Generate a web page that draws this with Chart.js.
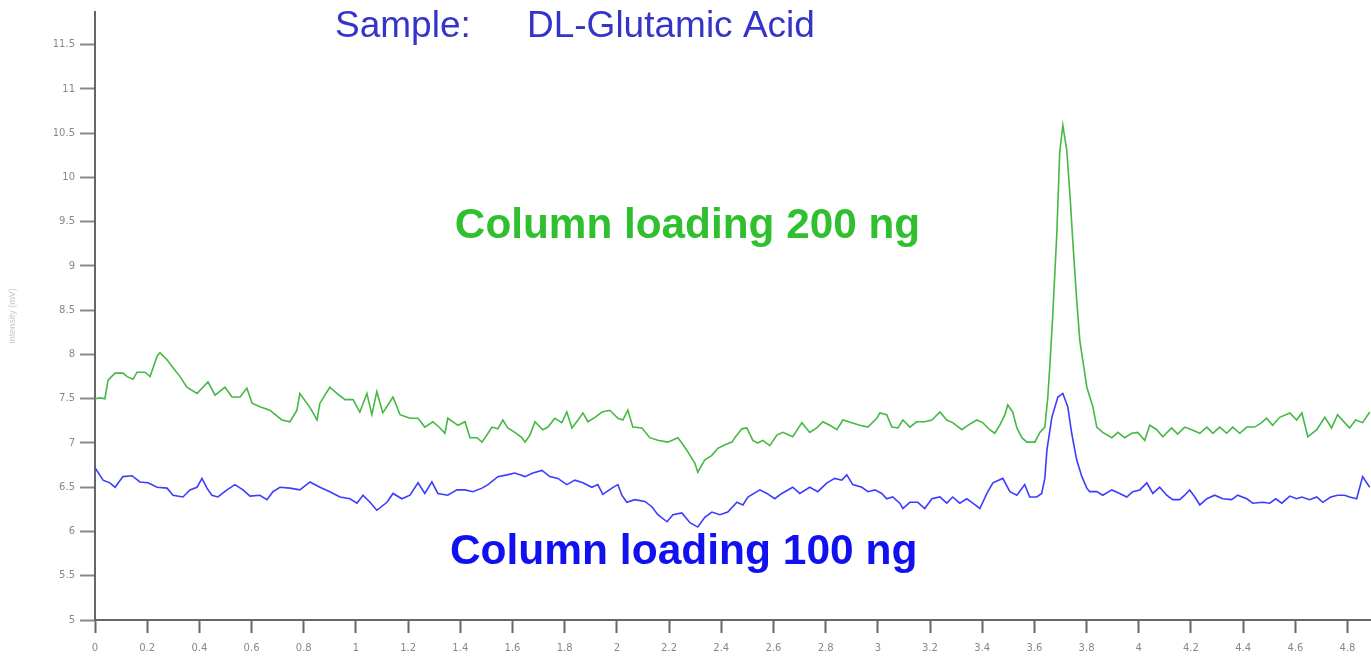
<!DOCTYPE html>
<html>
<head>
<meta charset="utf-8">
<title>DL-Glutamic Acid</title>
<script src="https://cdn.jsdelivr.net/npm/chart.js@4/dist/chart.umd.min.js"></script>
<style>
    body { margin: 0; background: #fff; }
    #wrap { width: 1371px; height: 656px; }
</style>
</head>
<body>
<div id="wrap"><canvas id="myChart" width="1371" height="656"></canvas></div>
<script>
/* Retention time (min) and signal, 200 ng trace */
const greenX = [0, 0.019, 0.038, 0.050, 0.077, 0.107, 0.123, 0.146, 0.161, 0.192, 0.211, 0.238, 0.249, 0.276, 0.299, 0.326,
    0.352, 0.391, 0.433, 0.460, 0.498, 0.525, 0.556, 0.582, 0.602, 0.632, 0.670, 0.716, 0.747, 0.774, 0.785, 0.824,
    0.851, 0.862, 0.900, 0.927, 0.958, 0.989, 1.015, 1.042, 1.061, 1.080, 1.103, 1.142, 1.169, 1.207, 1.238, 1.264,
    1.295, 1.322, 1.341, 1.352, 1.391, 1.418, 1.437, 1.464, 1.483, 1.502, 1.521, 1.544, 1.563, 1.582, 1.609, 1.636,
    1.648, 1.667, 1.686, 1.716, 1.736, 1.762, 1.789, 1.808, 1.828, 1.851, 1.870, 1.889, 1.916, 1.943, 1.973, 2.004,
    2.023, 2.042, 2.061, 2.096, 2.126, 2.157, 2.195, 2.234, 2.249, 2.272, 2.299, 2.310, 2.337, 2.364, 2.387, 2.414,
    2.441, 2.452, 2.479, 2.498, 2.521, 2.540, 2.559, 2.586, 2.613, 2.636, 2.674, 2.709, 2.739, 2.766, 2.789, 2.816,
    2.843, 2.866, 2.900, 2.931, 2.962, 2.996, 3.008, 3.034, 3.054, 3.077, 3.096, 3.123, 3.149, 3.180, 3.207, 3.238,
    3.264, 3.287, 3.322, 3.345, 3.379, 3.402, 3.429, 3.448, 3.467, 3.487, 3.498, 3.517, 3.533, 3.552, 3.571, 3.602,
    3.621, 3.640, 3.651, 3.659, 3.670, 3.686, 3.697, 3.709, 3.724, 3.736, 3.747, 3.762, 3.774, 3.801, 3.824, 3.839,
    3.862, 3.897, 3.920, 3.946, 3.973, 3.996, 4.023, 4.042, 4.069, 4.092, 4.126, 4.149, 4.176, 4.203, 4.234, 4.261,
    4.284, 4.310, 4.337, 4.360, 4.387, 4.414, 4.444, 4.471, 4.490, 4.513, 4.540, 4.579, 4.605, 4.625, 4.648, 4.682,
    4.713, 4.739, 4.762, 4.789, 4.808, 4.831, 4.858, 4.885];
const greenY = [7.50, 7.51, 7.50, 7.71, 7.79, 7.79, 7.75, 7.72, 7.80, 7.80, 7.75, 7.98, 8.02, 7.94, 7.85, 7.75,
    7.63, 7.56, 7.69, 7.54, 7.63, 7.52, 7.52, 7.62, 7.45, 7.41, 7.37, 7.26, 7.24, 7.37, 7.56, 7.40,
    7.26, 7.45, 7.63, 7.56, 7.49, 7.49, 7.35, 7.56, 7.32, 7.58, 7.34, 7.52, 7.32, 7.28, 7.28, 7.18,
    7.24, 7.17, 7.11, 7.28, 7.20, 7.24, 7.06, 7.06, 7.01, 7.09, 7.18, 7.16, 7.26, 7.17, 7.12, 7.06,
    7.01, 7.09, 7.24, 7.15, 7.18, 7.28, 7.23, 7.35, 7.17, 7.26, 7.34, 7.24, 7.29, 7.35, 7.37, 7.28,
    7.26, 7.37, 7.18, 7.17, 7.06, 7.03, 7.01, 7.06, 7.00, 6.90, 6.77, 6.67, 6.81, 6.86, 6.94, 6.98,
    7.01, 7.06, 7.16, 7.17, 7.03, 7.00, 7.03, 6.97, 7.09, 7.12, 7.07, 7.23, 7.12, 7.17, 7.24, 7.20,
    7.15, 7.26, 7.23, 7.20, 7.18, 7.28, 7.34, 7.32, 7.18, 7.17, 7.26, 7.18, 7.24, 7.24, 7.26, 7.35,
    7.26, 7.23, 7.15, 7.20, 7.26, 7.23, 7.15, 7.11, 7.20, 7.32, 7.43, 7.35, 7.17, 7.06, 7.01, 7.01,
    7.12, 7.18, 7.50, 7.86, 8.42, 9.37, 10.28, 10.59, 10.31, 9.82, 9.29, 8.62, 8.16, 7.63, 7.41, 7.18,
    7.12, 7.06, 7.12, 7.06, 7.11, 7.12, 7.03, 7.20, 7.15, 7.07, 7.17, 7.10, 7.18, 7.15, 7.11, 7.18,
    7.11, 7.18, 7.11, 7.18, 7.11, 7.18, 7.18, 7.23, 7.28, 7.20, 7.29, 7.34, 7.26, 7.34, 7.07, 7.15,
    7.29, 7.17, 7.32, 7.23, 7.17, 7.26, 7.23, 7.35];

/* 100 ng trace */
const blueX = [0, 0.031, 0.057, 0.077, 0.107, 0.142, 0.172, 0.203, 0.238, 0.276, 0.299, 0.337, 0.364, 0.391, 0.410, 0.429,
    0.448, 0.471, 0.506, 0.536, 0.567, 0.594, 0.632, 0.659, 0.682, 0.709, 0.747, 0.785, 0.824, 0.862, 0.900, 0.939,
    0.977, 1.004, 1.027, 1.054, 1.080, 1.119, 1.142, 1.176, 1.207, 1.238, 1.264, 1.291, 1.314, 1.352, 1.387, 1.418,
    1.448, 1.483, 1.506, 1.544, 1.579, 1.609, 1.648, 1.678, 1.713, 1.743, 1.774, 1.808, 1.839, 1.870, 1.904, 1.927,
    1.946, 1.981, 2.004, 2.019, 2.038, 2.069, 2.107, 2.134, 2.157, 2.192, 2.215, 2.249, 2.280, 2.310, 2.337, 2.364,
    2.395, 2.425, 2.460, 2.483, 2.502, 2.548, 2.575, 2.605, 2.632, 2.674, 2.701, 2.739, 2.770, 2.805, 2.835, 2.862,
    2.881, 2.904, 2.939, 2.962, 2.989, 3.015, 3.034, 3.057, 3.084, 3.096, 3.123, 3.153, 3.180, 3.207, 3.238, 3.264,
    3.287, 3.314, 3.341, 3.364, 3.391, 3.418, 3.441, 3.479, 3.506, 3.533, 3.563, 3.582, 3.609, 3.628, 3.640, 3.648,
    3.667, 3.690, 3.709, 3.728, 3.743, 3.762, 3.782, 3.801, 3.812, 3.839, 3.862, 3.897, 3.927, 3.954, 3.977, 4.004,
    4.031, 4.054, 4.080, 4.107, 4.130, 4.157, 4.176, 4.195, 4.215, 4.234, 4.261, 4.291, 4.322, 4.356, 4.379, 4.414,
    4.437, 4.475, 4.502, 4.525, 4.548, 4.579, 4.605, 4.625, 4.655, 4.682, 4.705, 4.736, 4.762, 4.789, 4.808, 4.835,
    4.858, 4.885];
const blueY = [6.72, 6.58, 6.55, 6.50, 6.62, 6.63, 6.56, 6.55, 6.50, 6.49, 6.41, 6.39, 6.47, 6.50, 6.60, 6.49,
    6.41, 6.39, 6.47, 6.53, 6.47, 6.40, 6.41, 6.36, 6.45, 6.50, 6.49, 6.47, 6.56, 6.50, 6.45, 6.39,
    6.37, 6.32, 6.41, 6.33, 6.24, 6.33, 6.43, 6.37, 6.41, 6.55, 6.43, 6.56, 6.43, 6.41, 6.47, 6.47,
    6.45, 6.49, 6.53, 6.62, 6.64, 6.66, 6.62, 6.66, 6.69, 6.62, 6.60, 6.53, 6.58, 6.55, 6.50, 6.53,
    6.42, 6.49, 6.53, 6.41, 6.33, 6.36, 6.34, 6.28, 6.19, 6.11, 6.19, 6.21, 6.10, 6.05, 6.16, 6.22,
    6.19, 6.22, 6.33, 6.30, 6.39, 6.47, 6.43, 6.37, 6.43, 6.50, 6.43, 6.50, 6.45, 6.55, 6.60, 6.58,
    6.64, 6.53, 6.50, 6.45, 6.47, 6.43, 6.37, 6.39, 6.32, 6.26, 6.33, 6.33, 6.26, 6.37, 6.39, 6.32,
    6.39, 6.32, 6.37, 6.32, 6.26, 6.43, 6.55, 6.60, 6.45, 6.41, 6.53, 6.39, 6.39, 6.43, 6.60, 6.92,
    7.29, 7.52, 7.56, 7.41, 7.11, 6.81, 6.62, 6.49, 6.45, 6.45, 6.41, 6.47, 6.43, 6.39, 6.45, 6.47,
    6.55, 6.43, 6.50, 6.41, 6.36, 6.36, 6.41, 6.47, 6.39, 6.30, 6.37, 6.41, 6.37, 6.36, 6.41, 6.37,
    6.32, 6.33, 6.32, 6.37, 6.32, 6.40, 6.37, 6.39, 6.36, 6.39, 6.33, 6.39, 6.41, 6.41, 6.39, 6.37,
    6.62, 6.50];

/* Axis ranges and tick steps */
const xRange = [0, 4.89];
const yRange = [5, 11.87];
const xStep = 0.2;
const yStep = 0.5;

const seriesLabels = ["Column loading 200 ng", "Column loading 100 ng"];
const titleLeft = "Sample:";
const titleRight = "DL-Glutamic Acid";
const yTitle = "Intensity (mV)";

/**
 * Pairs an x array with a y array into {x, y} points for the scatter/line dataset
 */
function toPoints(xs, ys) {
    let pts = [];
    for (let i = 0; i < xs.length; i++) {
        pts.push({ x: xs[i], y: ys[i] });
    }
    return pts;
}

/**
 * Fits a bold label into a given width, then writes it at the left x / middle y given in data units
 */
function drawLabel(ctx, text, px, py, width, color) {
    ctx.font = "bold 36px 'Liberation Sans', Arial, sans-serif";
    const size = 36 * width / ctx.measureText(text).width;
    ctx.font = "bold " + size.toFixed(1) + "px 'Liberation Sans', Arial, sans-serif";
    ctx.fillStyle = color;
    ctx.textBaseline = "middle";
    ctx.textAlign = "left";
    ctx.fillText(text, px, py);
}

/* Writes the title and the two in-plot labels on top of the chart */
const textPlugin = {
    id: "textPlugin",
    afterDraw(chart) {
        const ctx = chart.ctx;
        const x = chart.scales.x;
        const y = chart.scales.y;
        ctx.save();
        ctx.fillStyle = "#3434c8";
        ctx.font = "37px 'Liberation Sans', Arial, sans-serif";
        ctx.textBaseline = "alphabetic";
        ctx.fillText(titleLeft, 335, 37);
        ctx.fillText(titleRight, 527, 37);

        drawLabel(ctx, seriesLabels[0], x.getPixelForValue(1.379), y.getPixelForValue(9.45), 465, "#2fbf2f");
        drawLabel(ctx, seriesLabels[1], x.getPixelForValue(1.36), y.getPixelForValue(5.76), 468, "#1010f0");
        ctx.restore();
    }
};

function showChart() {
    new Chart("myChart", {
        type: "scatter",
        data: {
            datasets: [{
                label: seriesLabels[0],
                data: toPoints(greenX, greenY),
                showLine: true,
                borderColor: "#45b845",
                borderWidth: 1.6,
                pointRadius: 0,
                tension: 0
            }, {
                label: seriesLabels[1],
                data: toPoints(blueX, blueY),
                showLine: true,
                borderColor: "#3c3cff",
                borderWidth: 1.6,
                pointRadius: 0,
                tension: 0
            }]
        },
        options: {
            responsive: false,
            animation: false,
            layout: { padding: { top: 12, left: 0, right: 0, bottom: 0 } },
            plugins: {
                legend: { display: false },
                tooltip: { enabled: false }
            },
            scales: {
                x: {
                    type: "linear",
                    min: xRange[0],
                    max: xRange[1],
                    afterFit: function (s) { s.height = 36; },
                    border: { color: "#666", width: 2 },
                    grid: { drawOnChartArea: false, drawTicks: true, tickLength: 13, color: "#666", tickWidth: 2 },
                    ticks: {
                        stepSize: xStep,
                        includeBounds: false,
                        padding: 9,
                        maxRotation: 0,
                        autoSkip: false,
                        color: "#888",
                        font: { size: 10, family: "'DejaVu Sans', sans-serif" },
                        callback: function (v) { return Math.round(v * 10) / 10; }
                    }
                },
                y: {
                    min: yRange[0],
                    max: yRange[1],
                    afterFit: function (s) { s.width = 95; },
                    border: { color: "#666", width: 2 },
                    grid: { drawOnChartArea: false, drawTicks: true, tickLength: 15, color: "#888", tickWidth: 2 },
                    title: {
                        display: true,
                        text: yTitle,
                        color: "#c8c8c8",
                        font: { size: 9 },
                        padding: { top: 0, bottom: 0, left: 0, right: 0 }
                    },
                    ticks: {
                        stepSize: yStep,
                        includeBounds: false,
                        padding: 5,
                        color: "#888",
                        font: { size: 10, family: "'DejaVu Sans', sans-serif" },
                        callback: function (v) { return Math.round(v * 10) / 10; }
                    }
                }
            }
        },
        plugins: [textPlugin,
            {
                id: "nudgeTitle",
                /* shift the faint rotated axis title a little inward, as in the picture */
                beforeDraw(chart) { chart.scales.y.left = 7; },
                afterDraw(chart) { chart.scales.y.left = 0; }
            }]
    });
}

showChart();
</script>
</body>
</html>
